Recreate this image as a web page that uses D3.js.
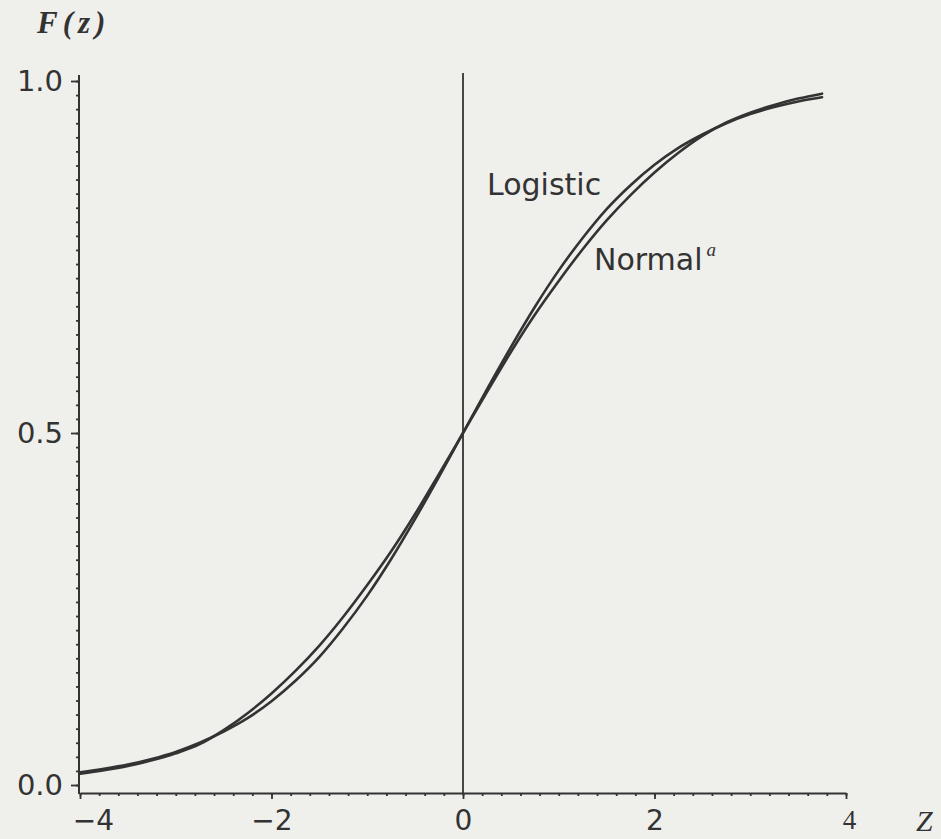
<!DOCTYPE html>
<html>
<head>
<meta charset="utf-8">
<script src="https://cdn.jsdelivr.net/npm/d3@7"></script>
<style>
  html, body { margin: 0; padding: 0; background: #efefec; }
  svg { display: block; }
</style>
</head>
<body>
<svg id="chart" width="941" height="839"></svg>
<script>
// Argument z of the cumulative distribution
const zValues = [-4, -3.75, -3.5, -3.25, -3, -2.75, -2.5, -2.25, -2, -1.75, -1.5, -1.25, -1, -0.75, -0.5, -0.25,
                 0, 0.25, 0.5, 0.75, 1, 1.25, 1.5, 1.75, 2, 2.25, 2.5, 2.75, 3, 3.25, 3.5, 3.75];

// Logistic CDF
const logisticValues = [0.018, 0.023, 0.029, 0.037, 0.047, 0.060, 0.076, 0.095, 0.119, 0.148, 0.182, 0.223,
                        0.269, 0.321, 0.378, 0.438, 0.500, 0.562, 0.622, 0.679, 0.731, 0.777, 0.818, 0.852,
                        0.881, 0.905, 0.924, 0.940, 0.953, 0.963, 0.971, 0.977];

// Normal CDF (rescaled)
const normalValues = [0.016, 0.021, 0.027, 0.035, 0.045, 0.058, 0.078, 0.102, 0.130, 0.162, 0.198, 0.239,
                      0.284, 0.332, 0.385, 0.442, 0.500, 0.558, 0.615, 0.668, 0.716, 0.761, 0.802, 0.838,
                      0.870, 0.898, 0.922, 0.941, 0.955, 0.966, 0.975, 0.982];

const xTickValues = [-4, -2, 0, 2, 4];
const yTickValues = [0, 0.5, 1];

const ink = "#333";
const svg = d3.select("#chart");

svg.append("rect").attr("width", 941).attr("height", 839).attr("fill", "#efefec");

const x = d3.scaleLinear().domain([-4, 4]).range([80, 846]);
const y = d3.scaleLinear().domain([0, 1]).range([785, 81]);

const xMinor = d3.range(-40, 41, 2).map(d => d / 10);
const yMinor = d3.range(0, 51, 1).map(d => d / 50);

// ---- x axis ----
const xAxisY = 793;
const gxMinor = svg.append("g").attr("transform", `translate(0,${xAxisY})`)
  .call(d3.axisBottom(x).tickValues(xMinor).tickSize(3).tickSizeOuter(0).tickFormat(""));
const gx = svg.append("g").attr("transform", `translate(0,${xAxisY})`)
  .call(d3.axisBottom(x).tickValues(xTickValues).tickSize(6).tickSizeOuter(0).tickPadding(11)
        .tickFormat(d3.format("d")));
gxMinor.select(".domain").remove();
gx.select(".domain").attr("stroke", ink).attr("stroke-width", 2);
[gxMinor, gx].forEach(g => g.selectAll(".tick line").attr("stroke", ink).attr("stroke-width", 1.8));
gx.selectAll(".tick text")
  .attr("fill", ink)
  .attr("dx", d => d === -4 ? 13 : (d === 4 ? 3 : 0))
  .style("font-family", d => d === 4 ? "'Liberation Serif', serif" : "'DejaVu Sans', sans-serif")
  .style("font-size", d => d === 4 ? "27px" : "28px");

// ---- y axis ----
const yAxisX = 79;
const gyMinor = svg.append("g").attr("transform", `translate(${yAxisX},0)`)
  .call(d3.axisLeft(y).tickValues(yMinor).tickSize(3).tickSizeOuter(0).tickFormat(""));
const gy = svg.append("g").attr("transform", `translate(${yAxisX},0)`)
  .call(d3.axisLeft(y).tickValues(yTickValues).tickSize(8).tickSizeOuter(0).tickPadding(8)
        .tickFormat(d3.format(".1f")));
gyMinor.select(".domain").remove();
gy.select(".domain").remove();
[gyMinor, gy].forEach(g => g.selectAll(".tick line").attr("stroke", ink).attr("stroke-width", 1.8));
gy.selectAll(".tick text")
  .attr("fill", ink)
  .style("font-family", "'DejaVu Sans', sans-serif")
  .style("font-size", "29px");

svg.append("line")
  .attr("x1", yAxisX).attr("x2", yAxisX)
  .attr("y1", 75).attr("y2", xAxisY + 1)
  .attr("stroke", ink).attr("stroke-width", 2);

// vertical reference line at z = 0
svg.append("line")
  .attr("x1", x(0)).attr("x2", x(0))
  .attr("y1", 73).attr("y2", xAxisY)
  .attr("stroke", ink).attr("stroke-width", 1.8);

// ---- curves ----
const line = d3.line()
  .x(d => x(d[0]))
  .y(d => y(d[1]))
  .curve(d3.curveMonotoneX);

[logisticValues, normalValues].forEach(vals => {
  svg.append("path")
    .datum(zValues.map((z, i) => [z, vals[i]]))
    .attr("d", line)
    .attr("fill", "none")
    .attr("stroke", ink)
    .attr("stroke-width", 2.6)
    .attr("stroke-linecap", "round");
});

// ---- labels ----
svg.append("text")
  .attr("x", 37).attr("y", 33)
  .attr("fill", ink)
  .style("font-family", "'Liberation Serif', serif")
  .style("font-style", "italic")
  .style("font-weight", "bold")
  .style("font-size", "31px")
  .style("letter-spacing", "5px")
  .text("F(z)");

svg.append("text")
  .attr("x", 916).attr("y", 831)
  .attr("fill", ink)
  .style("font-family", "'Liberation Serif', serif")
  .style("font-style", "italic")
  .style("font-size", "30px")
  .text("Z");

svg.append("text")
  .attr("x", 487).attr("y", 195)
  .attr("fill", ink)
  .style("font-family", "'DejaVu Sans', sans-serif")
  .style("font-size", "30px")
  .text("Logistic");

const normalLabel = svg.append("text")
  .attr("x", 594).attr("y", 270)
  .attr("fill", ink)
  .style("font-family", "'DejaVu Sans', sans-serif")
  .style("font-size", "30px");
normalLabel.append("tspan").text("Normal");
normalLabel.append("tspan")
  .attr("dx", 4).attr("dy", -14)
  .style("font-family", "'Liberation Serif', serif")
  .style("font-style", "italic")
  .style("font-size", "19px")
  .text("a");
</script>
</body>
</html>
